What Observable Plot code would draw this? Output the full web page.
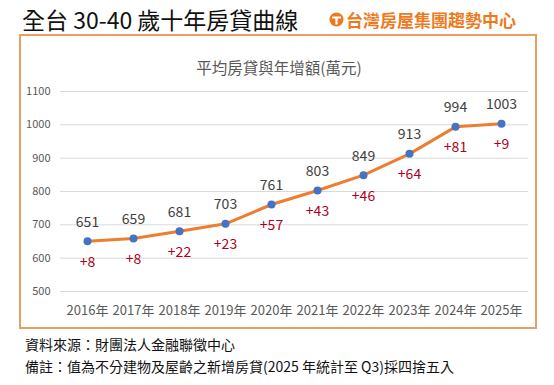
<!DOCTYPE html>
<html><head><meta charset="utf-8">
<script src="https://cdn.jsdelivr.net/npm/d3@7"></script>
<script src="https://cdn.jsdelivr.net/npm/@observablehq/plot@0.6"></script>
<style>
html,body{margin:0;padding:0;background:#fff;}
#wrap{position:relative;width:554px;height:385px;overflow:hidden;font-family:"Noto Sans CJK TC","Noto Sans",sans-serif;}
#title{position:absolute;left:22px;top:2px;font-size:23px;color:#111;white-space:nowrap;}
#logo{position:absolute;left:329px;top:7px;font-size:17px;font-weight:bold;color:#EE7A1E;white-space:nowrap;display:flex;align-items:center;}
#box{position:absolute;left:19px;top:34px;width:518px;height:295px;border:2px solid #E6A066;box-sizing:border-box;}
#ctitle{position:absolute;left:0;width:558px;top:56px;text-align:center;font-size:15.5px;color:#595959;}
#chart{position:absolute;left:0;top:0;}
#foot{position:absolute;left:25px;top:333px;font-size:14px;color:#111;line-height:22px;white-space:nowrap;}
</style></head>
<body><div id="wrap">
<div id="title">全台 30-40 歲十年房貸曲線</div>
<div id="logo"><svg width="15" height="15" viewBox="0 0 15 15" style="margin-right:2px"><circle cx="7.5" cy="7.5" r="7" fill="#EE7A1E"/><path d="M3 4.5h9v2H8.6v6H6.4v-6H3z" fill="#fff"/></svg>台灣房屋集團趨勢中心</div>
<div id="box"></div>
<div id="chart"></div>
<div id="ctitle">平均房貸與年增額(萬元)</div>
<div id="foot">資料來源：財團法人金融聯徵中心<br>備註：值為不分建物及屋齡之新增房貸(2025 年統計至 Q3)採四捨五入</div>
</div>
<script>
const years = ["2016年","2017年","2018年","2019年","2020年","2021年","2022年","2023年","2024年","2025年"];
const values = [651,659,681,703,761,803,849,913,994,1003];
const deltas = ["+8","+8","+22","+23","+57","+43","+46","+64","+81","+9"];
const yTicks = [500,600,700,800,900,1000,1100];

const data = years.map((y,i)=>({year:y,value:values[i],delta:deltas[i]}));

const chart = Plot.plot({
  width:554, height:335,
  marginTop:91, marginBottom:44, marginLeft:60, marginRight:26,
  style:{fontFamily:'"Noto Sans CJK TC","Noto Sans",sans-serif',background:"transparent"},
  x:{type:"point",domain:years,padding:0.5,label:null},
  y:{domain:[500,1100],label:null},
  marks:[
    Plot.ruleY(yTicks,{stroke:"#D9D9D9",strokeWidth:1}),
    Plot.axisY({ticks:yTicks,tickFormat:d=>String(d),tickSize:0,tickPadding:10,fontSize:11,fill:"#595959",label:null}),
    Plot.axisX({tickSize:0,tickPadding:14,fontSize:13,fill:"#595959",label:null}),
    Plot.line(data,{x:"year",y:"value",stroke:"#ED7D31",strokeWidth:3}),
    Plot.dot(data,{x:"year",y:"value",r:4,fill:"#4472C4"}),
    Plot.text(data,{x:"year",y:"value",text:d=>String(d.value),dy:-19,fontSize:14,fill:"#404040"}),
    Plot.text(data,{x:"year",y:"value",text:"delta",dy:21,fontSize:14,fill:"#B00020"})
  ]
});
document.getElementById("chart").appendChild(chart);
</script>
</body></html>
